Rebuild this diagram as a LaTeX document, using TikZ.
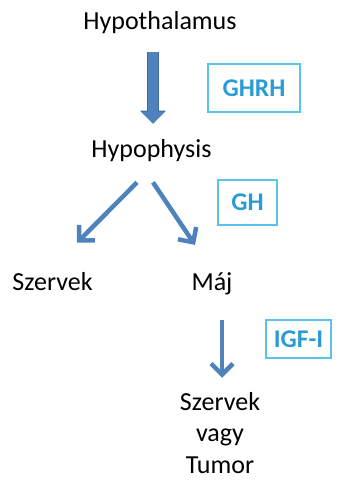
\documentclass[tikz,border=0pt]{standalone}
\usepackage{fontspec}
\setmainfont{Carlito}
\usepackage{tikz}
\usepackage{xcolor}
\usetikzlibrary{arrows.meta}

\definecolor{arrowblue}{HTML}{4F81BD}
\definecolor{arrowedge}{HTML}{3D6B9F}
\definecolor{boxline}{HTML}{5CC3E8}
\definecolor{boxtext}{HTML}{2B9BD8}

\begin{document}
\begin{tikzpicture}[x=1pt, y=-1pt,
    label/.style={inner sep=0pt, anchor=base, font=\fontsize{26}{31.5}\selectfont},
    hormone/.style={draw=boxline, line width=1.6pt, inner sep=0pt, text=boxtext,
        font=\fontsize{25.5}{28}\selectfont\bfseries},
    thin arrow/.style={draw=arrowblue, line width=4.5pt, -{Straight Barb[length=11pt, width=22pt, line width=4.5pt]}},
    big arrow/.style={draw=arrowblue, line width=10pt, -{Triangle[length=12pt, width=23pt]},
        preaction={draw=arrowedge, line width=11.5pt, -{Triangle[length=13pt, width=25pt]}}}]
    \useasboundingbox (0,0) rectangle (342,486);

    % Text of the chain
    \node[label] (hypothal) at (160,30) {Hypothalamus};
    \node[label] (hypoph) at (151.5,158) {Hypophysis};
    \node[label] (szervek) at (52.5,290) {Szervek};
    \node[label] (maj) at (212,290) {Máj};
    \node[label, align=center] (tumor) at (220,473) {Szervek\\vagy\\Tumor};

    % The hormones
    \node[hormone, minimum width=92pt, minimum height=48pt] (ghrh) at (254,88) {GHRH};
    \node[hormone, minimum width=59pt, minimum height=45pt] (gh) at (247.5,202.5) {GH};
    \node[hormone, minimum width=65pt, minimum height=38pt] (igf) at (298.5,339) {IGF-I};

    % Arrows
    \draw[big arrow] ([xshift=-7pt, yshift=-18pt]hypothal.south) -- ([xshift=1.5pt, yshift=16pt]hypoph.north);
    \draw[thin arrow] ([xshift=-14.5pt, yshift=-20pt]hypoph.south) -- ([xshift=24.5pt, yshift=29pt]szervek.north);
    \draw[thin arrow] ([xshift=1.5pt, yshift=-20pt]hypoph.south) -- ([xshift=-17pt, yshift=27pt]maj.north);
    \draw[thin arrow] ([xshift=10pt, yshift=-25pt]maj.south) -- ([xshift=2pt, yshift=14pt]tumor.north);
\end{tikzpicture}
\end{document}
